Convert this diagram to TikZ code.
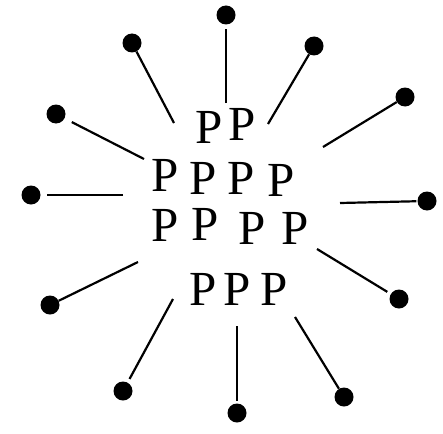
\documentclass[tikz,border=0pt]{standalone}
\usepackage{fontspec}
\setmainfont{Liberation Serif}
\usepackage{tikz}

\tikzset{
    pbox/.style={inner sep=0pt, font=\fontsize{49}{49}\selectfont},
    pin/.style={circle, fill=black, minimum size=19pt, inner sep=0pt},
    stick/.style={line width=2.2pt}
}

\begin{document}
\begin{tikzpicture}[x=1pt, y=-1pt]
    \useasboundingbox (0,0) rectangle (443,433);

    \node[pbox] (p11) at (209,127) {P};
    \node[pbox] (p12) at (242,124) {P};
    \node[pbox] (p21) at (165,175) {P};
    \node[pbox] (p22) at (203,178) {P};
    \node[pbox] (p23) at (241,178) {P};
    \node[pbox] (p24) at (281,180) {P};
    \node[pbox] (p31) at (165,225) {P};
    \node[pbox] (p32) at (205,224) {P};
    \node[pbox] (p33) at (252,228) {P};
    \node[pbox] (p34) at (295,228) {P};
    \node[pbox] (p41) at (203,289) {P};
    \node[pbox] (p42) at (237,289) {P};
    \node[pbox] (p43) at (274,289) {P};

    \node[pin] (d1) at (226,15) {};
    \node[pin] (d2) at (132,43) {};
    \node[pin] (d3) at (314,46) {};
    \node[pin] (d4) at (405,97) {};
    \node[pin] (d5) at (56,114) {};
    \node[pin] (d6) at (31,195) {};
    \node[pin] (d7) at (427,201) {};
    \node[pin] (d8) at (399,299) {};
    \node[pin] (d9) at (50,305) {};
    \node[pin] (d10) at (123,391) {};
    \node[pin] (d11) at (237,413) {};
    \node[pin] (d12) at (344,397) {};

    \coordinate (a1) at (226,103);
    \coordinate (a2) at (174,123);
    \coordinate (a3) at (268,124);
    \coordinate (a4) at (323,147);
    \coordinate (a5) at (144,159);
    \coordinate (a6) at (123,195);
    \coordinate (a7) at (340,203);
    \coordinate (a8) at (317,249);
    \coordinate (a9) at (138,262);
    \coordinate (a10) at (173,299);
    \coordinate (a11) at (237,326);
    \coordinate (a12) at (295,317);

    \draw[stick, shorten >=4pt] (a1) -- (d1);
    \draw[stick] (a2) -- (d2);
    \draw[stick] (a3) -- (d3);
    \draw[stick] (a4) -- (d4);
    \draw[stick, shorten >=8pt] (a5) -- (d5);
    \draw[stick, shorten >=6pt] (a6) -- (d6);
    \draw[stick, shorten >=1pt] (a7) -- (d7);
    \draw[stick, shorten >=4pt] (a8) -- (d8);
    \draw[stick] (a9) -- (d9);
    \draw[stick, shorten >=4pt] (a10) -- (d10);
    \draw[stick, shorten >=2pt] (a11) -- (d11);
    \draw[stick] (a12) -- (d12);
\end{tikzpicture}
\end{document}
